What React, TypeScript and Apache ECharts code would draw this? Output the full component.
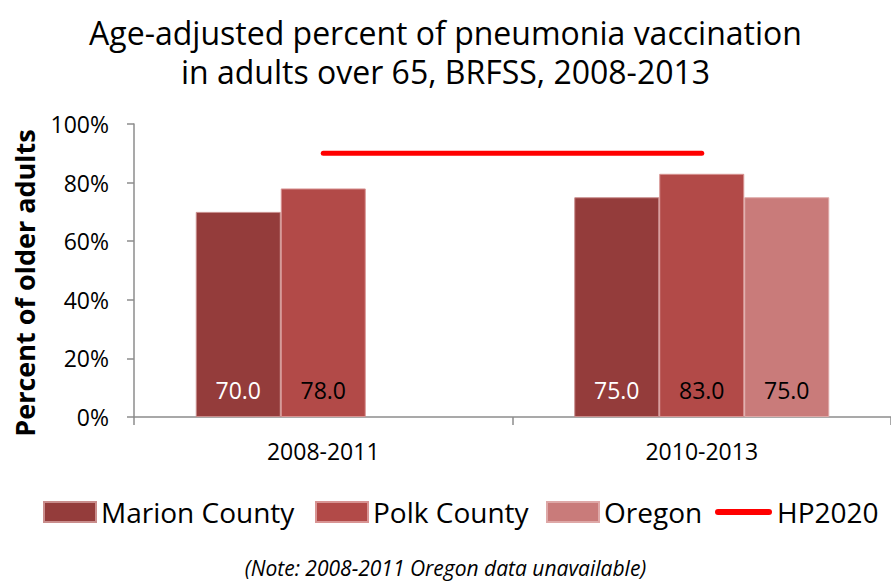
import React, { useEffect, useRef } from "react";
import * as echarts from "echarts";

const categories = ["2008-2011", "2010-2013"];
const marion = [70.0, 75.0];
const polk = [78.0, 83.0];
const oregon: (number | null)[] = [null, 75.0];
const hp2020 = [90, 90];
const yTicks = [0, 20, 40, 60, 80, 100];
const titleLines = [
  "Age-adjusted percent of pneumonia vaccination",
  "in adults over 65, BRFSS, 2008-2013",
];
const yAxisTitle = "Percent of older adults";
const note = "(Note: 2008-2011 Oregon data unavailable)";

const FONT = "Open Sans";

export default function App() {
  const ref = useRef<HTMLDivElement>(null);
  useEffect(() => {
    const chart = echarts.init(ref.current!, null, { renderer: "svg" });
    const labelFmt = (p: any) => (p.value == null ? "" : Number(p.value).toFixed(1));
    const barLabel = (color: string) => ({
      show: true,
      position: "insideBottom",
      distance: 16,
      color,
      fontFamily: FONT,
      fontSize: 23,
      formatter: labelFmt,
    });
    const legendBase = {
      top: 493,
      itemHeight: 20,
      itemWidth: 52,
      textStyle: { fontFamily: FONT, fontSize: 28, color: "#000" },
      selectedMode: false,
    };
    const titleStyle = {
      fontFamily: FONT,
      fontSize: 32,
      fontWeight: "normal",
      color: "#000",
    };
    chart.setOption({
      animation: false,
      title: [
        { text: titleLines[0], left: "center", top: 11, textStyle: titleStyle },
        { text: titleLines[1], left: "center", top: 50, textStyle: titleStyle },
        {
          text: note,
          left: "center",
          top: 552,
          textStyle: {
            fontFamily: FONT,
            fontSize: 21,
            fontStyle: "italic",
            fontWeight: "normal",
            color: "#000",
          },
        },
      ],
      graphic: [
        {
          type: "text",
          x: 24,
          y: 283,
          rotation: Math.PI / 2,
          style: {
            text: yAxisTitle,
            fontFamily: FONT,
            fontSize: 27,
            fontWeight: "bold",
            fill: "#000",
            align: "center",
            verticalAlign: "middle",
          },
        },
      ],
      legend: [
        { ...legendBase, left: 38, data: [{ name: "Marion County", icon: "rect" }] },
        { ...legendBase, left: 310, data: [{ name: "Polk County", icon: "rect" }] },
        { ...legendBase, left: 541, data: [{ name: "Oregon", icon: "rect" }] },
        {
          ...legendBase,
          left: 710,
          itemWidth: 57,
          itemHeight: 6,
          data: [
            {
              name: "HP2020",
              icon: "path://M3,0 L54,0 A3,3 0 0 1 54,6 L3,6 A3,3 0 0 1 3,0 Z",
            },
          ],
          itemStyle: { color: "#FF0000" },
        },
      ],
      grid: { left: 134, width: 766, top: 124, bottom: 166, containLabel: false },
      xAxis: {
        type: "category",
        data: categories,
        axisLine: { show: true, lineStyle: { color: "#8c8c8c", width: 1.5 } },
        axisTick: { show: true, length: 8, lineStyle: { color: "#8c8c8c", width: 1.5 } },
        axisLabel: { fontFamily: FONT, fontSize: 23, color: "#000", margin: 22 },
        splitLine: { show: false },
      },
      yAxis: {
        type: "value",
        min: yTicks[0],
        max: yTicks[yTicks.length - 1],
        interval: 20,
        axisLine: { show: true, lineStyle: { color: "#8c8c8c", width: 1.5 } },
        axisTick: { show: true, length: 7, lineStyle: { color: "#8c8c8c", width: 1.5 } },
        axisLabel: {
          fontFamily: FONT,
          fontSize: 23,
          color: "#000",
          margin: 25,
          formatter: "{value}%",
        },
        splitLine: { show: false },
      },
      series: [
        {
          name: "Marion County",
          type: "bar",
          data: marion,
          barWidth: 85,
          barGap: "0%",
          itemStyle: { color: "#943C3B", borderColor: "#c98d8c", borderWidth: 1 },
          label: barLabel("#ffffff"),
        },
        {
          name: "Polk County",
          type: "bar",
          data: polk,
          barWidth: 85,
          barGap: "0%",
          itemStyle: { color: "#B24A48", borderColor: "#d89493", borderWidth: 1 },
          label: barLabel("#000000"),
        },
        {
          name: "Oregon",
          type: "bar",
          data: oregon,
          barWidth: 85,
          barGap: "0%",
          itemStyle: { color: "#C97B7A", borderColor: "#dea8a7", borderWidth: 1 },
          label: barLabel("#000000"),
        },
        {
          name: "HP2020",
          type: "line",
          data: hp2020,
          symbol: "none",
          showSymbol: false,
          lineStyle: { color: "#FF0000", width: 5, cap: "round" },
          itemStyle: { color: "#FF0000" },
          z: 5,
        },
      ],
    });
    return () => chart.dispose();
  }, []);
  return <div ref={ref} style={{ width: 891, height: 583, position: "absolute", left: 0, top: 0 }} />;
}
